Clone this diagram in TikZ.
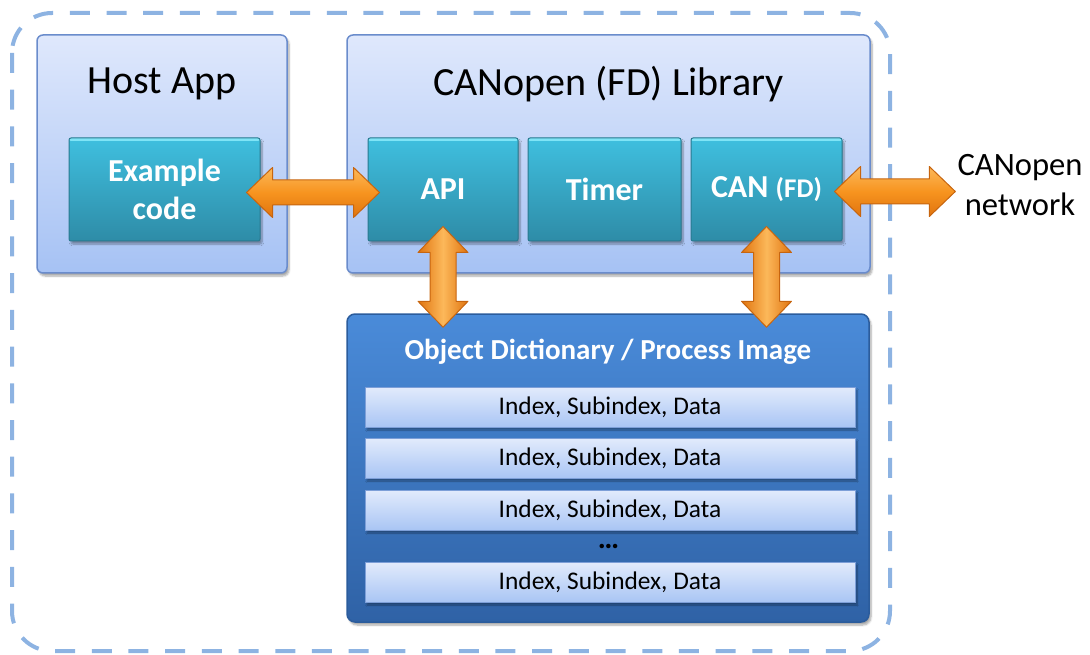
\documentclass[tikz,border=0pt]{standalone}
\usepackage{fontspec}
\setmainfont{Carlito}
\usepackage{tikz}
\usetikzlibrary{calc,positioning,shadows.blur}

\definecolor{frameblue}{HTML}{8DB3E2}
\definecolor{paletop}{HTML}{DFE8FC}
\definecolor{palebot}{HTML}{A6C2F4}
\definecolor{paleedge}{HTML}{6A8CCC}
\definecolor{tealtop}{HTML}{3FBFDF}
\definecolor{tealbot}{HTML}{2E8CA7}
\definecolor{tealedge}{HTML}{2A7A90}
\definecolor{tealhi}{HTML}{7FE4F6}
\definecolor{odtop}{HTML}{4A8BD9}
\definecolor{odbot}{HTML}{2F62A6}
\definecolor{odedge}{HTML}{2B5C9C}
\definecolor{rowtop}{HTML}{E2EBFC}
\definecolor{rowbot}{HTML}{A9C5F4}
\definecolor{rowedge}{HTML}{7D9FD8}
\definecolor{arrowlight}{HTML}{FCB85A}
\definecolor{arrowmid}{HTML}{F7941F}
\definecolor{arrowdark}{HTML}{E0740F}
\definecolor{arrowedge}{HTML}{C7650F}

\tikzset{
  outerframe/.style={draw=frameblue,line width=4pt,dash pattern=on 20pt off 16.7pt,rounded corners=40pt},
  softshadow/.style={blur shadow={shadow xshift=2pt,shadow yshift=-3pt,shadow opacity=35,shadow blur steps=6}},
  layer/.style={draw=paleedge,line width=1.5pt,top color=paletop,bottom color=palebot,rounded corners=6pt,inner sep=0pt,softshadow},
  module/.style={draw=tealedge,line width=1pt,top color=tealtop,bottom color=tealbot,rounded corners=2pt,
    minimum height=103pt,inner sep=0pt,text=white,align=center,font=\fontsize{32}{38}\selectfont\bfseries,softshadow,
    path picture={\fill[tealhi] (path picture bounding box.north west) rectangle ($(path picture bounding box.north east)+(0,3)$);}},
  odbox/.style={draw=odedge,line width=1.5pt,top color=odtop,bottom color=odbot,rounded corners=8pt,inner sep=0pt,softshadow},
  entry/.style={draw=rowedge,line width=0.8pt,top color=rowtop,bottom color=rowbot,minimum width=490pt,minimum height=40pt,
    inner sep=0pt,font=\fontsize{25.4}{30}\selectfont,softshadow},
  headline/.style={font=\fontsize{40}{48}\selectfont},
  odhead/.style={text=white,font=\fontsize{29}{34}\selectfont\bfseries},
  netlabel/.style={align=center,inner sep=2pt,font=\fontsize{32.6}{40}\selectfont},
  pipeH/.style={draw=arrowedge,line width=1pt,line join=round,top color=arrowlight,bottom color=arrowdark,middle color=arrowmid},
  pipeV/.style={draw=arrowedge,line width=1pt,line join=round,left color=arrowdark,right color=arrowdark,middle color=arrowlight}
}

% two-headed fat arrows, left tip to right tip / top tip to bottom tip
\newcommand{\hdbl}[2]{%
  \path[pipeH] (#1) -- ($(#1)+(26,-25)$) -- ($(#1)+(26,-12.5)$) -- ($(#2)+(-26,-12.5)$) -- ($(#2)+(-26,-25)$)
    -- (#2) -- ($(#2)+(-26,25)$) -- ($(#2)+(-26,12.5)$) -- ($(#1)+(26,12.5)$) -- ($(#1)+(26,25)$) -- cycle;}
\newcommand{\vdbl}[2]{%
  \path[pipeV] (#1) -- ($(#1)+(25,26)$) -- ($(#1)+(13,26)$) -- ($(#2)+(13,-26)$) -- ($(#2)+(25,-26)$)
    -- (#2) -- ($(#2)+(-25,-26)$) -- ($(#2)+(-13,-26)$) -- ($(#1)+(-13,26)$) -- ($(#1)+(-25,26)$) -- cycle;}

\begin{document}
\begin{tikzpicture}[x=1pt,y=-1pt]
  \useasboundingbox (0,0) rectangle (1090,655);
  \draw[outerframe] (12,13) rectangle (890,651);

  % host application
  \node[layer,minimum width=250pt,minimum height=238pt] (host) at (162,154) {};
  \node[headline] (hosttitle) at (162,84) {Host App};
  \node[module,minimum width=191pt] (code) at (164.5,189.5) {Example\\code};

  % stack
  \node[layer,minimum width=523pt,minimum height=238pt] (lib) at (608.5,154) {};
  \node[headline] (libtitle) at (608.5,84) {CANopen (FD) Library};
  \node[module,minimum width=150pt] (api) at (443,189.5) {API};
  \node[module,minimum width=153pt] (timer) at (604.5,189.5) {Timer};
  \node[module,minimum width=151pt] (can) at (766.5,189.5) {CAN {\fontsize{27}{30}\selectfont(FD)}};

  % object dictionary
  \node[odbox,minimum width=522pt,minimum height=308pt] (od) at (608,468) {};
  \node[odhead] (odtitle) at (608,352) {Object Dictionary / Process Image};
  \foreach \y/\n in {407/1,458/2,510/3,582/4}
    \node[entry] (entry\n) at (610,\y) {Index, Subindex, Data};
  \node[font=\fontsize{30}{34}\selectfont\bfseries] (dots) at (608.5,546) {\ldots};

  \node[netlabel] (net) at (1020,185) {CANopen\\network};

  % arrows
  \coordinate (codeR) at ($(code.east)+(-14,3)$);
  \coordinate (apiL) at ($(api.west)+(12,3)$);
  \coordinate (apiT) at ($(api.south)+(0,-15)$);
  \coordinate (apiB) at ($(od.north -| api)+(0,14)$);
  \coordinate (canT) at ($(can.south)+(0,-15)$);
  \coordinate (canB) at ($(od.north -| can)+(0,14)$);
  \coordinate (canR) at ($(can.east)+(-8,2)$);
  \coordinate (netL) at (net.west |- canR);
  \hdbl{codeR}{apiL}
  \vdbl{apiT}{apiB}
  \vdbl{canT}{canB}
  \hdbl{canR}{netL}
\end{tikzpicture}
\end{document}
